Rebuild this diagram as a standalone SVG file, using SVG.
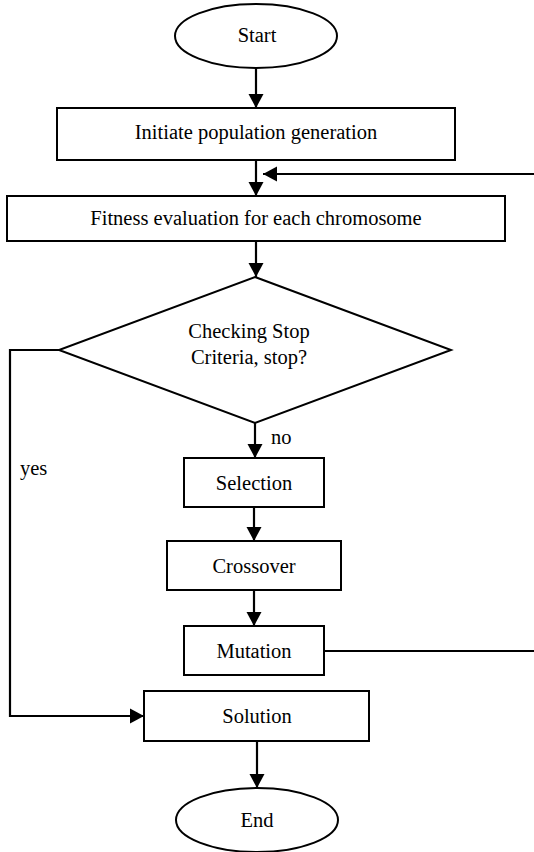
<svg xmlns="http://www.w3.org/2000/svg" width="534" height="852" viewBox="0 0 534 852">
<style>
.shape{fill:#fff;stroke:#000;stroke-width:2}
.edge{fill:none;stroke:#000;stroke-width:2.2}
text{font-family:"Liberation Serif","Times New Roman",serif;font-size:20.5px;fill:#000;text-anchor:middle}
.lbl{text-anchor:start}
</style>
<defs>
<marker id="ah" markerUnits="userSpaceOnUse" markerWidth="15" markerHeight="16" refX="14" refY="8" orient="auto" viewBox="0 0 15 16">
<path d="M0,0.5 L14,8 L0,15.5 z" fill="#000"/>
</marker>
</defs>
<rect width="534" height="852" fill="#fff"/>
<g id="connectors">
<line class="edge" x1="256" y1="68" x2="256" y2="108" marker-end="url(#ah)"/>
<line class="edge" x1="256" y1="160" x2="256" y2="196" marker-end="url(#ah)"/>
<line class="edge" x1="534" y1="174" x2="263" y2="174" marker-end="url(#ah)"/>
<line class="edge" x1="256" y1="241" x2="256" y2="277" marker-end="url(#ah)"/>
<line class="edge" x1="255" y1="423" x2="255" y2="458" marker-end="url(#ah)"/>
<line class="edge" x1="254" y1="507" x2="254" y2="541" marker-end="url(#ah)"/>
<line class="edge" x1="254" y1="590" x2="254" y2="626" marker-end="url(#ah)"/>
<line class="edge" x1="324" y1="651" x2="534" y2="651"/>
<polyline class="edge" points="59,350 10,350 10,716 144,716" marker-end="url(#ah)"/>
<line class="edge" x1="257" y1="741" x2="257" y2="788" marker-end="url(#ah)"/>
<text class="lbl" x="271" y="444">no</text>
<text class="lbl" x="20" y="475">yes</text>
</g>
<g id="start">
<ellipse class="shape" cx="256" cy="36" rx="81" ry="32"/>
<text x="257" y="42">Start</text>
</g>
<g id="init">
<rect class="shape" x="57" y="108" width="398" height="52"/>
<text x="256" y="139">Initiate population generation</text>
</g>
<g id="fitness">
<rect class="shape" x="7" y="196" width="498" height="45"/>
<text x="256" y="225">Fitness evaluation for each chromosome</text>
</g>
<g id="check">
<polygon class="shape" points="255,277 451,350 255,423 59,350"/>
<text x="249" y="338">Checking Stop</text>
<text x="249" y="364">Criteria, stop?</text>
</g>
<g id="selection">
<rect class="shape" x="184" y="458" width="140" height="49"/>
<text x="254" y="490">Selection</text>
</g>
<g id="crossover">
<rect class="shape" x="167" y="541" width="174" height="49"/>
<text x="254" y="573">Crossover</text>
</g>
<g id="mutation">
<rect class="shape" x="184" y="626" width="140" height="49"/>
<text x="254" y="658">Mutation</text>
</g>
<g id="solution">
<rect class="shape" x="144" y="691" width="225" height="50"/>
<text x="257" y="723">Solution</text>
</g>
<g id="end">
<ellipse class="shape" cx="257" cy="820" rx="81" ry="32"/>
<text x="257" y="827">End</text>
</g>
</svg>
